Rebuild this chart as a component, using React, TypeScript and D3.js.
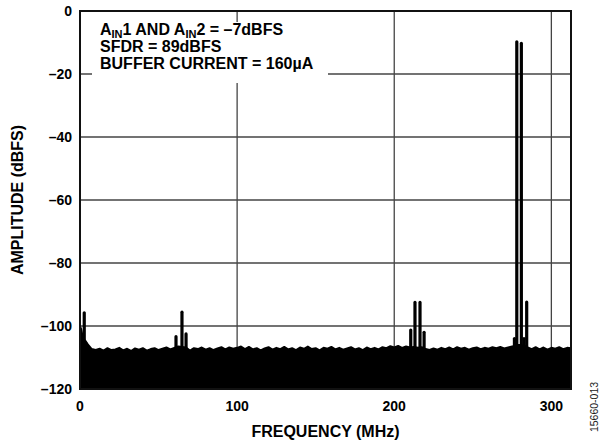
import React from "react";
import * as d3 from "d3";

const xTicks = [0, 100, 200, 300];
const yTicks = [0, -20, -40, -60, -80, -100, -120];
const xGrid = [100, 200, 300];
const yGrid = [-20, -40, -60, -80, -100];
const freqMax = 312.5;
const noiseStepMHz = 2.5;
const noiseLevels = [
  -100, -104, -105.8, -107.3, -107.6, -107.2, -107.8, -107.0, -107.6, -107.4,
  -106.9, -107.7, -107.2, -107.9, -107.1, -107.5, -107.0, -107.8, -107.3, -107.0,
  -107.6, -107.2, -106.8, -107.4, -106.9, -106.5, -106.6, -106.8, -107.8, -107.0,
  -107.3, -106.8, -107.5, -107.0, -107.6, -107.1, -106.7, -107.4, -106.8, -107.2,
  -106.9, -106.5, -107.3, -106.6, -107.4, -107.0, -107.7, -107.1, -106.7, -107.5,
  -106.9, -107.3, -106.6, -107.4, -107.0, -107.6, -106.8, -107.2, -106.5, -107.3,
  -107.0, -107.7, -106.9, -107.2, -106.6, -107.4, -106.9, -107.5, -107.1, -106.7,
  -107.4, -107.0, -107.6, -106.8, -107.3, -106.9, -107.4, -106.7, -107.0, -106.4,
  -106.8, -106.3, -106.9, -106.5, -106.8, -106.6, -106.9, -106.7, -107.3, -107.6,
  -107.1, -107.5, -106.9, -107.3, -106.8, -107.4, -106.7, -107.2, -106.9, -107.5,
  -107.0, -106.8, -107.3, -106.9, -107.2, -106.7, -107.0, -106.6, -107.1, -106.8,
  -106.5, -106.0, -106.0, -106.2, -106.8, -107.3, -106.7, -107.4, -106.8, -107.5,
  -106.9, -107.2, -106.7, -107.3, -106.9, -107.0,
];
const dcFreqs = [0, 0.8, 1.6];
const dcLevels = [-99, -101, -103];
const spikeFreqs = [2.7, 61.1, 64.9, 67.5, 210.5, 213.2, 216.4, 219.0, 276.5, 278.0, 280.9, 282.6, 284.3];
const spikeLevels = [-95.8, -103.4, -95.6, -102.5, -101.3, -92.5, -92.5, -102, -104, -9.8, -10.3, -104, -92.4];

const W = 600;
const H = 447;
const left = 80;
const right = 571;
const top = 11;
const bottom = 389;

export default function App() {
  const x = d3.scaleLinear().domain([0, freqMax]).range([left, right]);
  const y = d3.scaleLinear().domain([-120, 0]).range([bottom, top]);

  const noisePts: [number, number][] = noiseLevels.map((v, i) => [i * noiseStepMHz, v]);
  dcFreqs.forEach((f, i) => noisePts.push([f, dcLevels[i]]));
  noisePts.sort((a, b) => a[0] - b[0]);
  const pts = noisePts.filter((p, i, arr) => i === 0 || p[0] !== arr[i - 1][0]);

  const interp = d3
    .scaleLinear()
    .domain(pts.map((p) => p[0]))
    .range(pts.map((p) => p[1]));

  const area = d3
    .area<[number, number]>()
    .x((d) => x(d[0]))
    .y0(y(-120))
    .y1((d) => y(d[1]));
  const line = d3
    .line<[number, number]>()
    .x((d) => x(d[0]))
    .y((d) => y(d[1]));

  const font = "'Liberation Sans', Arial, Helvetica, sans-serif";

  return (
    <svg
      width={W}
      height={H}
      style={{ position: "absolute", left: 0, top: 0, display: "block", background: "#fff" }}
      fontFamily={font}
    >
      <rect x={0} y={0} width={W} height={H} fill="#fff" />
      {xGrid.map((g) => (
        <line key={"gx" + g} x1={x(g)} x2={x(g)} y1={top} y2={bottom} stroke="#444" strokeWidth={1.3} />
      ))}
      {yGrid.map((g) => (
        <line key={"gy" + g} x1={left} x2={right} y1={y(g)} y2={y(g)} stroke="#444" strokeWidth={1.3} />
      ))}
      <path d={area(pts) || ""} fill="#000" />
      <path d={line(pts) || ""} fill="none" stroke="#000" strokeWidth={1.8} strokeLinejoin="round" />
      {spikeFreqs.map((f, i) => (
        <line
          key={"s" + i}
          x1={x(f)}
          x2={x(f)}
          y1={y(interp(f))}
          y2={y(spikeLevels[i])}
          stroke="#000"
          strokeWidth={3.2}
          strokeLinecap="round"
        />
      ))}
      <rect x={92} y={22} width={236} height={61} fill="#fff" />
      <g fontWeight="bold" fontSize={16} fill="#000">
        <text x={100} y={35}>
          A<tspan fontSize={11} baselineShift="-3">IN</tspan>1 AND A
          <tspan fontSize={11} baselineShift="-3">IN</tspan>2 = –7dBFS
        </text>
        <text x={100} y={52}>SFDR = 89dBFS</text>
        <text x={100} y={69}>BUFFER CURRENT = 160µA</text>
      </g>
      <rect x={left} y={top} width={right - left} height={bottom - top} fill="none" stroke="#111" strokeWidth={2} />
      <g fontWeight="bold" fontSize={14} fill="#000">
        {yTicks.map((t) => (
          <text key={"yt" + t} x={72} y={y(t) + 5} textAnchor="end">
            {t === 0 ? "0" : "–" + Math.abs(t)}
          </text>
        ))}
        {xTicks.map((t) => (
          <text key={"xt" + t} x={x(t)} y={411} textAnchor="middle">
            {t}
          </text>
        ))}
      </g>
      <text x={(left + right) / 2} y={437} textAnchor="middle" fontWeight="bold" fontSize={16}>
        FREQUENCY (MHz)
      </text>
      <text
        transform={`translate(23, ${(top + bottom) / 2}) rotate(-90)`}
        textAnchor="middle"
        fontWeight="bold"
        fontSize={16}
      >
        AMPLITUDE (dBFS)
      </text>
      <text transform={`translate(598, 407) rotate(-90)`} textAnchor="middle" fontSize={10.5} fill="#222">
        15660-013
      </text>
    </svg>
  );
}
